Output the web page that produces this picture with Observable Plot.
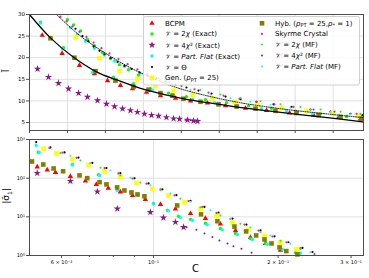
<!DOCTYPE html>
<html><head><meta charset="utf-8">
<script src="https://cdn.jsdelivr.net/npm/d3@7"></script>
<script src="https://cdn.jsdelivr.net/npm/@observablehq/plot@0.6"></script>
<style>
html,body{margin:0;padding:0;background:#fff;}
#wrap{position:relative;width:369px;height:278px;overflow:hidden;font-family:"DejaVu Sans",sans-serif;}
.lab{position:absolute;font-family:"DejaVu Sans",sans-serif;color:#000;white-space:nowrap;}
</style></head><body>
<div id="wrap"></div>
<script>
// ---------- TOP PANEL DATA (C, Ī) ----------
const fitC = [0.050, 0.0638, 0.0790, 0.0948, 0.1080, 0.1231, 0.1409, 0.1528, 0.1824, 0.2114, 0.2417, 0.2707];
const fitI = [30, 24.6, 20.1, 16.6, 14.8, 12.9, 11.3, 10.4, 8.8, 7.5, 6.3, 5.1];
const dotLineC = [0.0684, 0.0836, 0.1034, 0.1185, 0.1343, 0.1495, 0.1824, 0.2153, 0.2483, 0.2707];
const dotLineI = [29.8, 25.0, 20.3, 17.3, 14.8, 12.8, 10.0, 8.2, 6.9, 6.1];

const bcpmTopC = [0.0584,0.0715,0.0829,0.0928,0.1014,0.1099,0.1178,0.1271,0.1363,0.1462,0.1561,0.1672,0.1791,0.1923,0.2061,0.2213,0.2371,0.2535,0.2680];
const bcpmTopI = [25.2,21.0,18.2,16.3,14.7,13.6,12.8,12.0,11.2,10.6,10.0,9.5,8.9,8.3,7.8,7.2,6.7,6.2,5.8];
const ex2TopC = [0.0572,0.0750,0.0790,0.0836,0.0882,0.0928,0.0981,0.1034,0.1093,0.1152,0.1218, 0.0724,0.0922,0.1053,0.1185,0.1297,0.1416,0.1534,0.1659,0.1798,0.1943,0.2094,0.2252,0.2417,0.2588];
const ex2TopI = [28.2,28.8,27.6,26.2,24.2,22.8,21.2,19.8,18.4,17.2,16.0, 22.3,16.9,15.5,14.0,12.8,11.8,11.0,10.3,9.6,8.9,8.3,7.6,7.0,6.4];
const ex4TopC = [0.0553,0.0625,0.0691,0.0757,0.0823,0.0882,0.0948,0.1007,0.1060,0.1113,0.1165,0.1211,0.1257,0.1304,0.1350,0.1402,0.1449,0.1488,0.1541,0.1580,0.1607];
const ex4TopI = [17.4,15.5,14.1,12.8,11.8,10.9,10.1,9.3,8.7,8.2,7.8,7.4,7.0,6.7,6.5,6.2,5.9,5.8,5.6,5.4,5.3];
const exPFTopC = [0.0572,0.0770,0.0816,0.0869,0.0928,0.0994,0.1060,0.1126, 0.0717,0.0915,0.1047,0.1178,0.1310,0.1442,0.1574,0.1719,0.1870,0.2028,0.2193,0.2364,0.2535,0.2680];
const exPFTopI = [28.0,27.0,25.4,23.8,22.2,20.6,19.2,18.0, 22.0,16.6,15.2,13.7,12.5,11.5,10.4,9.6,8.8,8.2,7.6,7.1,6.6,6.2];
const thetaTopC = [0.0803,0.0849,0.0889,0.0922,0.0961,0.0994,0.1034,0.1080,0.1126,0.1172,0.1225,0.1277,0.1337,0.1396,0.1462,0.1534,0.1613,0.1699,0.1791,0.1890,0.1995,0.2107,0.2226,0.2351,0.2483,0.2614,0.2693];
const thetaTopI = [26.7,25.0,23.8,22.6,21.6,20.8,19.9,19.0,18.1,17.4,16.6,15.9,15.2,14.5,13.8,13.1,12.4,11.7,11.0,10.4,9.8,9.2,8.6,8.0,7.5,7.0,6.7];
const genTopC = [0.0803,0.0961,0.1093,0.1211,0.1330,0.1449,0.1574,0.1705,0.1850,0.2002,0.2160,0.2325,0.2496,0.2667];
const genTopI = [24.7,19.9,16.9,15.0,13.5,12.4,11.4,10.6,9.8,9.0,8.3,7.7,7.1,6.6];
const hybTopC = [0.0638,0.0796,0.0935,0.1066,0.1185,0.1284,0.1363,0.1442,0.1514,0.1626,0.1745,0.1864,0.1989,0.2120,0.2259,0.2404,0.2549,0.2687];
const hybTopI = [24.5,20.0,16.9,14.7,13.3,12.6,11.8,11.2,10.5,9.8,9.2,8.7,8.2,7.7,7.2,6.7,6.3,5.9];
const skyTopC = [0.0704,0.0744,0.0783,0.0829,0.0875,0.0922,0.0974,0.1027,0.1086,0.1146,0.1211,0.1277,0.1350,0.1422,0.1501,0.1587,0.1679,0.1778,0.1883,0.1995,0.2114,0.2239,0.2371,0.2509,0.2654];
const skyTopI = [29.5,28.4,27.2,26.0,24.8,23.5,22.2,21.0,19.7,18.5,17.3,16.3,15.3,14.4,13.5,12.7,11.9,11.2,10.5,9.8,9.2,8.6,8.0,7.5,7.0];
const mf2TopC = [0.1231,0.1363,0.1495,0.1626,0.1758,0.1890,0.2022,0.2153,0.2285,0.2417,0.2549,0.2680];
const mf2TopI = [16.4,14.9,13.6,12.5,11.5,10.7,9.9,9.2,8.6,8.0,7.5,7.0];
const mf4TopC = [0.1528,0.1561,0.1594];
const mf4TopI = [5.6,5.5,5.4];
const mfPFTopC = [0.1297,0.1429,0.1561,0.1692,0.1824,0.1956,0.2088,0.2219,0.2351,0.2483,0.2614];
const mfPFTopI = [15.0,13.7,12.5,11.5,10.6,9.8,9.1,8.5,7.9,7.4,6.9];

// ---------- BOTTOM PANEL DATA (C, |σ|) ----------
const bcpmBotC = [0.0524,0.0554,0.0580,0.0630,0.0685,0.0728,0.0778,0.0832,0.0890,0.0956,0.1040,0.1130,0.1229,0.1335,0.1451,0.1578,0.1715,0.1864,0.2026];
const bcpmBotS = [195,163,141,111,85,69,55,44,36,28,21,16,12.2,9.1,6.5,4.4,2.95,2.05,1.37];
const ex2BotC = [0.0527,0.0637,0.0737,0.0818,0.0915,0.1000,0.1081,0.1149,0.1229,0.1335,0.1451,0.1578,0.1715,0.1864,0.2026,0.2202];
const ex2BotS = [470,226,123,50,37.6,22.2,14.7,10.3,8.6,6.8,5.0,3.7,2.75,2.05,1.52,1.2];
const ex4BotC = [0.0524,0.0630,0.0732,0.0818,0.0983,0.1057,0.1130,0.1182];
const ex4BotS = [135,84,45,16.2,13.2,9.5,7.3,5.4];
const exPFBotC = [0.0521,0.0530,0.0637,0.0741,0.0818,0.0920,0.1000,0.1087,0.1162,0.1242,0.1349,0.1467,0.1595,0.1734,0.1885,0.2048,0.2264];
const exPFBotS = [700,462,220,117,48,37,21.6,14.3,9.6,8.1,6.3,4.6,3.5,2.6,1.94,1.44,1.14];
const thetaBotC = [0.0521,0.0564,0.0610,0.0659,0.0712,0.0770,0.0832,0.0900,0.0973,0.1051,0.1136,0.1229,0.1328,0.1436,0.1552,0.1677,0.1813,0.1960,0.2118,0.2290,0.2421];
const thetaBotS = [857,629,464,341,250,183,135,99,73,51.6,36.3,25.9,18.2,12.8,9.0,6.3,4.46,3.14,2.2,1.57,1.23];
const genBotC = [0.0543,0.0583,0.0637,0.0697,0.0762,0.0832,0.0910,0.0994,0.1087,0.1188,0.1299,0.1420,0.1552,0.1697,0.1855,0.2026,0.2215];
const genBotS = [578,435,306,216,150,106,74.5,52.5,35.5,23.6,15.8,10.6,7.1,4.7,3.2,2.15,1.44];
const hybBotC = [0.0509,0.0542,0.0574,0.0605,0.0663,0.0692,0.0741,0.0770,0.0817,0.0851,0.0885,0.0915,0.0951,0.1141,0.1303,0.1427,0.1569,0.1674,0.1770,0.1854,0.1928,0.2016,0.2093,0.2227];
const hybBotS = [270,226,178,151,118,100,79,69,57.6,48,42.7,37.9,34,19.7,11.6,7.7,5.6,4.2,3.3,2.6,2.05,1.62,1.3,1.07];
const skyBotC = [0.0561,0.0603,0.0652,0.0705,0.0762,0.0823,0.0890,0.0962,0.1040,0.1124,0.1215,0.1313,0.1420,0.1534,0.1659,0.1793,0.1938,0.2095,0.2264,0.2448];
const skyBotS = [607,455,335,246,182,133,98,72,51,36,25.5,18,12.6,8.9,6.3,4.4,3.1,2.2,1.55,1.09];
const mf2BotC = [0.0596,0.0666,0.0745,0.0832,0.0930,0.1040,0.1162,0.1299,0.1451,0.1622,0.1813,0.2026,0.2264];
const mf2BotS = [448,288,185,119,77,48.5,29.4,17.8,10.8,6.6,4.0,2.4,1.46];
const mf4BotC = [0.1202,0.1270,0.1328,0.1388,0.1443,0.1509,0.1560,0.1631,0.1725];
const mf4BotS = [5.4,4.65,3.7,3.0,2.45,2.05,1.73,1.5,1.17];
const mfPFBotC = [0.0630,0.0705,0.0787,0.0880,0.0983,0.1099,0.1229,0.1373,0.1534,0.1715,0.1916,0.2141,0.2393];
const mfPFBotS = [382,246,158,102,65.5,40,24.4,14.7,8.9,5.4,3.3,2.0,1.22];

// ---------- AXES ----------
const topYTicks = [5,10,15,20,25,30];
const topXTicks = [0.05,0.075,0.1,0.125,0.15,0.175,0.2,0.225,0.25];
const botYTicks = [1,10,100,1000];
const botYLabels = ["10⁰","10¹","10²","10³"];
const botXTicks = [0.06,0.1,0.2,0.3];
const botXLabels = ["6 × 10⁻²","10⁻¹","2 × 10⁻¹","3 × 10⁻¹"];
const botXMinor = [0.07,0.08,0.09];

// ---------- SERIES / LEGEND ----------
const seriesColors = ["#ff0000","#00ff00","#8b1a8b","#00ffff","#000000","#ffff00","#808000","#ff1493","#00ff00","#8b1a8b","#00ffff"];
const seriesSymbols = ["triangle","circle","star","circle","circle","square","square","circle","circle","circle","circle"];
const seriesR = [2.0,1.7,2.3,1.7,1.1,2.6,2.6,1.1,1.0,1.0,1.0];

const topData = [[bcpmTopC,bcpmTopI],[ex2TopC,ex2TopI],[ex4TopC,ex4TopI],[exPFTopC,exPFTopI],[thetaTopC,thetaTopI],[genTopC,genTopI],[hybTopC,hybTopI],[skyTopC,skyTopI],[mf2TopC,mf2TopI],[mf4TopC,mf4TopI],[mfPFTopC,mfPFTopI]];
const botData = [[bcpmBotC,bcpmBotS],[ex2BotC,ex2BotS],[ex4BotC,ex4BotS],[exPFBotC,exPFBotS],[thetaBotC,thetaBotS],[genBotC,genBotS],[hybBotC,hybBotS],[skyBotC,skyBotS],[mf2BotC,mf2BotS],[mf4BotC,mf4BotS],[mfPFBotC,mfPFBotS]];

function rows(cs, vs){ return cs.map((c,i)=>({c, v: vs[i]})); }
function dotMarks(data){
  return data.map(([cs,vs],k)=>Plot.dot(rows(cs,vs),{x:"c",y:"v",symbol:()=>seriesSymbols[k],r:seriesR[k],fill:seriesColors[k],stroke:"none"}));
}
const gridColor = "#dcdcdc";
const frameColor = "#4d4d4d";

const wrap = document.getElementById("wrap");

const topPlot = Plot.plot({
  width: 369, height: 136,
  marginLeft: 29, marginRight: 6, marginTop: 14, marginBottom: 6,
  x: {type:"linear", domain:[0.05,0.27]},
  y: {type:"linear", domain:[3.15,30]},
  symbol: {type:"identity"},
  style: {fontFamily:"DejaVu Sans", fontSize:"5.5px", background:"transparent", overflow:"visible"},
  marks: [
    Plot.ruleX(topXTicks,{stroke:gridColor,strokeWidth:0.9}),
    Plot.ruleY(topYTicks,{stroke:gridColor,strokeWidth:0.9}),
    ...dotMarks(topData),
    Plot.line(rows(fitC,fitI),{x:"c",y:"v",stroke:"#000",strokeWidth:1.2,curve:"catmull-rom",clip:true}),
    Plot.line(rows(dotLineC,dotLineI),{x:"c",y:"v",stroke:"#000",strokeWidth:0.9,strokeDasharray:"1,1.3",curve:"catmull-rom",clip:true}),
    Plot.frame({stroke:frameColor,strokeWidth:1}),
    Plot.axisY({ticks:topYTicks,tickSize:3,tickPadding:1.5,fontSize:5.5,label:null,stroke:frameColor}),
    Plot.axisX({ticks:topXTicks,tickSize:3,tickFormat:()=>"",label:null,stroke:frameColor})
  ]
});
topPlot.style.position="absolute"; topPlot.style.left="0px"; topPlot.style.top="0px";
wrap.append(topPlot);

const botPlot = Plot.plot({
  width: 369, height: 148,
  marginLeft: 29, marginRight: 6, marginTop: 9, marginBottom: 23,
  x: {type:"log", domain:[0.0502,0.3215]},
  y: {type:"log", domain:[1,1000]},
  symbol: {type:"identity"},
  style: {fontFamily:"DejaVu Sans", fontSize:"5.5px", background:"transparent", overflow:"visible"},
  marks: [
    Plot.ruleX([0.1],{stroke:gridColor,strokeWidth:0.9}),
    Plot.ruleY([10,100],{stroke:gridColor,strokeWidth:0.9}),
    ...dotMarks(botData),
    Plot.frame({stroke:frameColor,strokeWidth:1}),
    Plot.axisY({ticks:botYTicks,tickSize:3,tickPadding:1.5,fontSize:5,label:null,stroke:frameColor,tickFormat:(d)=>botYLabels[botYTicks.indexOf(d)]}),
    Plot.axisX({ticks:botXTicks,tickSize:3,tickPadding:2,fontSize:5,label:null,stroke:frameColor,tickFormat:(d)=>botXLabels[botXTicks.indexOf(d)]}),
    Plot.axisX({ticks:botXMinor,tickSize:2,tickFormat:()=>"",label:null,stroke:frameColor})
  ]
});
botPlot.style.position="absolute"; botPlot.style.left="0px"; botPlot.style.top="130px";
wrap.append(botPlot);

// axis titles
function addLab(html, css){ const d=document.createElement("div"); d.className="lab"; d.innerHTML=html; Object.assign(d.style,css); wrap.append(d); }
addLab("Ī",{left:"5px",top:"66px",fontSize:"9px",transform:"rotate(-90deg)"});
addLab("|σ̄<sub style='font-size:6px'>1</sub>|",{left:"-1px",top:"190px",fontSize:"9px",transform:"rotate(-90deg)"});
addLab("C",{left:"192px",top:"263px",fontSize:"10px"});

// legend
const legendSvg = d3.select(wrap).append("svg").attr("width",369).attr("height",278)
  .style("position","absolute").style("left","0px").style("top","0px").style("pointer-events","none");
legendSvg.append("rect").attr("x",143.5).attr("y",16.5).attr("width",216).attr("height",68.5).attr("rx",2)
  .attr("fill","rgba(255,255,255,0.85)").attr("stroke","#d0d0d0").attr("stroke-width",1);
const legendRows = [
  {k:0,x:152,y:23.3,parts:[["BCPM"]]},
  {k:1,x:152,y:33.9,parts:[["𝒱","i"],[" = 2"],["χ","i"],[" (Exact)"]]},
  {k:2,x:152,y:45.0,parts:[["𝒱","i"],[" = 4"],["χ","i"],["²"],[" (Exact)"]]},
  {k:3,x:152,y:56.0,parts:[["𝒱","i"],[" = "],["Part.","i"],[" "],["Flat","i"],[" (Exact)"]]},
  {k:4,x:152,y:67.0,parts:[["𝒱","i"],[" = Θ"]]},
  {k:5,x:152,y:77.8,parts:[["Gen. ("],["p","i"],["PT","sub"],[" = 25)"]]},
  {k:6,x:262,y:23.3,parts:[["Hyb. ("],["p","i"],["PT","sub"],[" = 25,"],["p","i"],["*","sub"],[" = 1)"]]},
  {k:7,x:262,y:33.9,parts:[["Skyrme Crystal"]]},
  {k:8,x:262,y:44.6,parts:[["𝒱","i"],[" = 2"],["χ","i"],[" (MF)"]]},
  {k:9,x:262,y:55.6,parts:[["𝒱","i"],[" = 4"],["χ","i"],["²"],[" (MF)"]]},
  {k:10,x:262,y:66.6,parts:[["𝒱","i"],[" = "],["Part.","i"],[" "],["Flat","i"],[" (MF)"]]}
];
const symMap = {triangle:d3.symbolTriangle,circle:d3.symbolCircle,star:d3.symbolStar,square:d3.symbolSquare};
legendRows.forEach(row=>{
  const k=row.k, r=seriesR[k];
  legendSvg.append("path").attr("d",d3.symbol(symMap[seriesSymbols[k]],Math.PI*r*r)())
    .attr("transform",`translate(${row.x},${row.y})`).attr("fill",seriesColors[k]);
  const t = legendSvg.append("text").attr("x",row.x+13).attr("y",row.y+2.5)
    .attr("font-family","DejaVu Sans").attr("font-size",7).attr("fill","#000");
  let sub=false;
  row.parts.forEach(([s,st])=>{
    const ts=t.append("tspan").text(s);
    if(st==="i") ts.attr("font-style","italic");
    if(st==="sub"){ ts.attr("font-size",5).attr("dy",1.5); sub=true; }
    else if(sub){ ts.attr("dy",-1.5); sub=false; }
  });
});
</script>
</body></html>
